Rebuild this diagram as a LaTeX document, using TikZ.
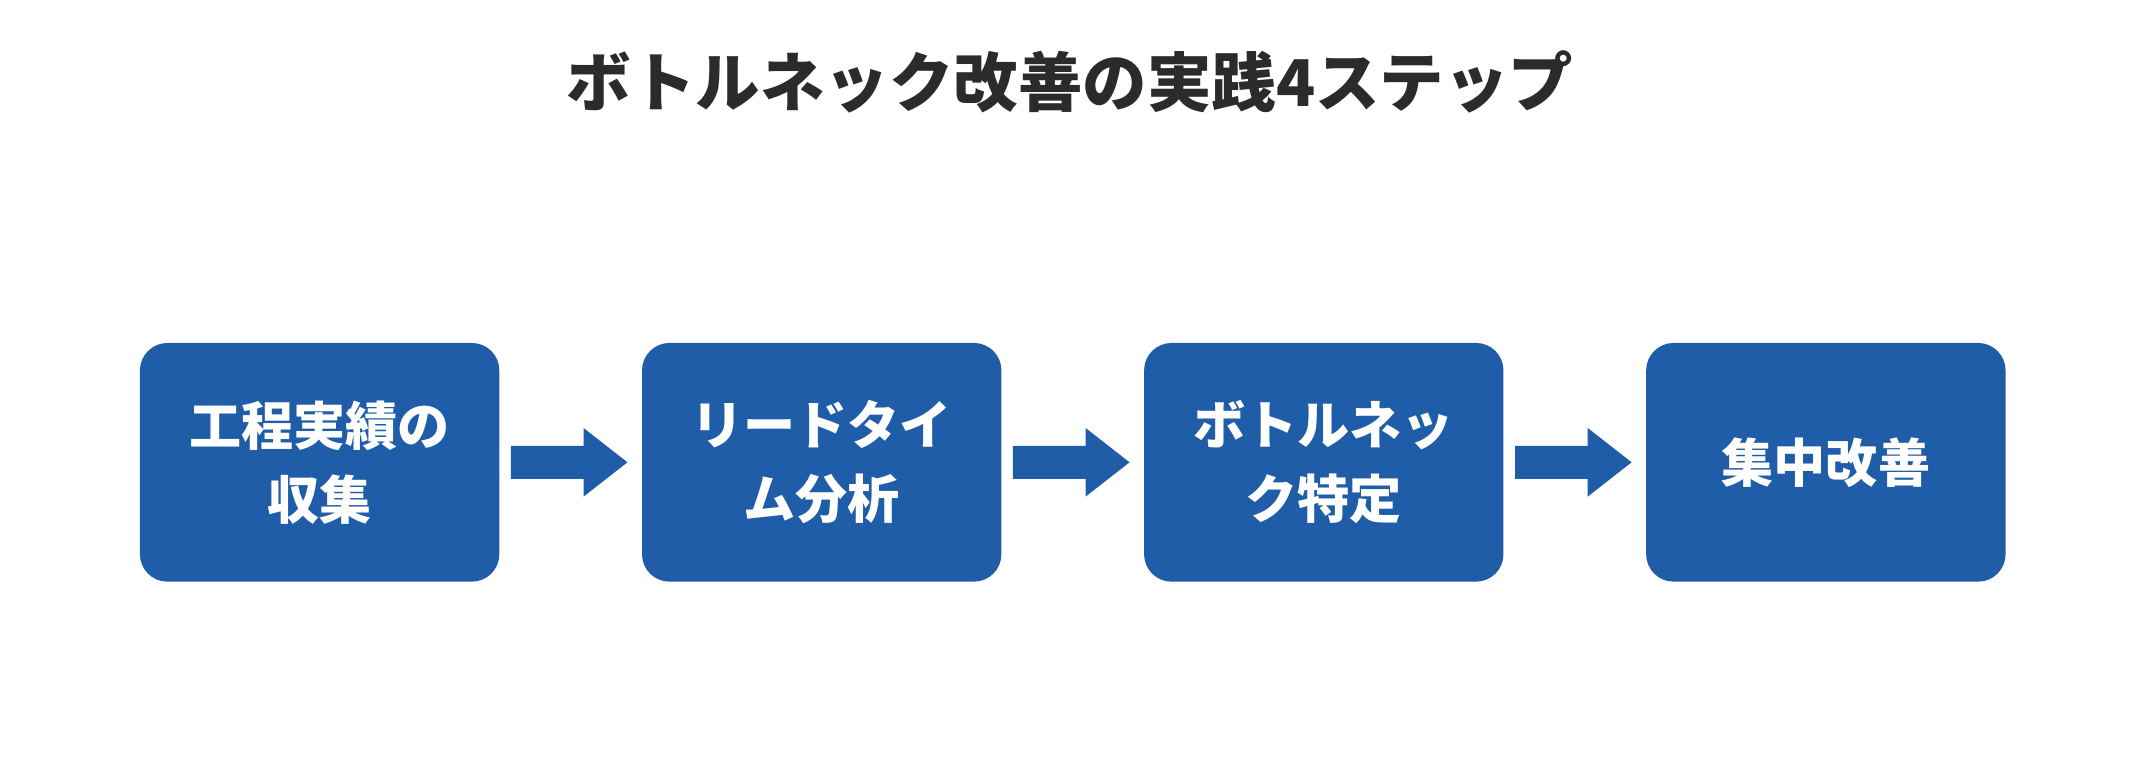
\documentclass[tikz,border=0pt]{standalone}
\usepackage{fontspec}
\newfontfamily\cjk{Noto Sans CJK JP}
\definecolor{boxblue}{HTML}{1F5DA8}
\definecolor{titlec}{HTML}{2B2B2B}
\begin{document}
\begin{tikzpicture}[x=0.5pt,y=-0.5pt,
  stepbox/.style={draw=none,fill=boxblue,rounded corners=10pt,minimum width=131pt,minimum height=87pt,text=white,font=\cjk\bfseries\fontsize{19}{27}\selectfont,align=center,inner sep=0pt},
  arr/.style={fill=boxblue,draw=none}]
\useasboundingbox (0,0) rectangle (1560,554);
\node[font=\cjk\bfseries\fontsize{23.5}{28}\selectfont,text=titlec] (title) at (780,60) {ボトルネック改善の実践4ステップ};
\node[stepbox] (s1) at (233,337) {工程実績の\\収集};
\node[stepbox] (s2) at (599,337) {リードタイ\\ム分析};
\node[stepbox] (s3) at (965,337) {ボトルネッ\\ク特定};
\node[stepbox] (s4) at (1331,337) {集中改善};
\foreach \a/\b in {s1/s2,s2/s3,s3/s4}{
  \path (\a.east) ++(8,0) coordinate (p);
  \fill[arr] (p) ++(0,-12) -- ++(53,0) -- ++(0,-13) -- ++(32,25) -- ++(-32,25) -- ++(0,-13) -- ++(-53,0) -- cycle;
}
\end{tikzpicture}
\end{document}
